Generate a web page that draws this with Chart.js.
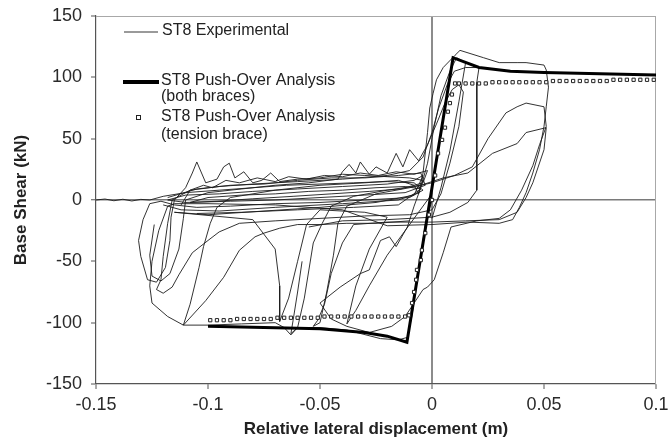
<!DOCTYPE html>
<html><head><meta charset="utf-8">
<script src="https://cdn.jsdelivr.net/npm/chart.js@4/dist/chart.umd.min.js"></script>
<style>html,body{margin:0;padding:0;background:#fff}#wrap{width:668px;height:443px}</style>
</head><body><div id="wrap"><canvas id="c" width="668" height="443"></canvas></div>
<script>
// ---- tick values / labels ----
const xTickValues = [-0.15, -0.1, -0.05, 0, 0.05, 0.1];
const xTickLabels = ['-0.15', '-0.1', '-0.05', '0', '0.05', '0.1'];
const yTickValues = [-150, -100, -50, 0, 50, 100, 150];
const xTitle = 'Relative lateral displacement (m)';
const yTitle = 'Base Shear (kN)';
const legendLabels = [
  ['ST8 Experimental'],
  ['ST8 Push-Over Analysis', '(both braces)'],
  ['ST8 Push-Over Analysis', '(tension brace)']
];

// ---- ST8 experimental hysteresis, [displacement m, shear kN] ----
const expBand = [
  [-0.150,0],[-0.146,0.8],[-0.142,-0.6],[-0.138,0.6],[-0.134,-0.8],[-0.130,0.5],[-0.126,0],
  [-0.120,3],[-0.110,6],[-0.095,8],[-0.080,10],[-0.065,12],[-0.050,13],[-0.035,14],[-0.020,15],[-0.008,14],[-0.004,8],[-0.010,2],[-0.030,0],[-0.050,-2],[-0.070,-3],[-0.090,-5],[-0.105,-6],[-0.115,-4],[-0.121,-1],
  [-0.126,-3],[-0.129,-16],[-0.131,-33],[-0.130,-46],[-0.127,-65],[-0.123,-67],[-0.119,-55],[-0.117,-33],[-0.1165,-14],[-0.115,0],[-0.110,10],[-0.107,22],[-0.105,31],[-0.101,14],[-0.096,17],[-0.093,27],[-0.0905,30],[-0.088,18],[-0.084,23],[-0.080,14],[-0.076,16],[-0.072,22],[-0.068,15],[-0.060,17],[-0.050,18],[-0.040,21],[-0.030,20],[-0.020,19],[-0.010,18],[-0.004,16],[-0.006,6],[-0.015,0],[-0.040,-3],[-0.070,-6],[-0.095,-9],[-0.112,-8],[-0.120,-4]
];
const expBand2 = [
  [-0.118,2],[-0.105,9],[-0.090,12],[-0.075,13],[-0.060,16],[-0.045,18],[-0.030,18],[-0.015,20],[-0.005,22],[-0.003,12],[-0.012,6],[-0.030,4],[-0.050,2],[-0.070,0],[-0.090,-1],[-0.110,-2],[-0.118,0],
  [-0.110,4],[-0.095,5],[-0.080,7],[-0.060,9],[-0.040,11],[-0.020,13],[-0.008,16],[-0.004,20],[-0.008,4],[-0.025,-2],[-0.050,-6],[-0.075,-9],[-0.100,-12],[-0.115,-10]
];
const expBand3 = [
  [-0.112,-4],[-0.108,8],[-0.102,12],[-0.098,10],[-0.092,16],[-0.086,14],[-0.078,18],[-0.070,15],[-0.064,19],[-0.056,17],[-0.048,20],[-0.040,19],[-0.032,22],[-0.024,20],[-0.016,23],[-0.008,21],[-0.002,24],[-0.004,14],[-0.014,9],[-0.028,7],[-0.045,5],[-0.062,3],[-0.080,1],[-0.096,-1],[-0.108,-2],
  [-0.100,2],[-0.085,4],[-0.070,5],[-0.055,7],[-0.040,8],[-0.025,10],[-0.012,11],[-0.005,9],[-0.015,-4],[-0.035,-6],[-0.060,-8],[-0.085,-10],[-0.105,-11]
];
const expMid = [
  [-0.124,-20],[-0.126,-45],[-0.125,-62],[-0.121,-66],[-0.117,-60],[-0.113,-40],[-0.111,-15],[-0.110,0],[-0.100,6],[-0.085,9],[-0.070,12],[-0.055,14],[-0.042,17],[-0.040,23],[-0.037,29],[-0.034,22],[-0.032,31],[-0.028,21],[-0.025,27],[-0.020,22],[-0.016,38],[-0.013,27],[-0.010,41],[-0.006,32],[-0.002,45],[0.002,62],[0.006,80],[0.009,90],[0.012,94],[0.014,88],[0.012,60],[0.008,30],[0.004,5],[0.000,-8],[-0.010,-12],[-0.030,-13],[-0.050,-15],[-0.070,-17],[-0.086,-19],
  [-0.095,-26],[-0.100,-33],[-0.107,-43],[-0.113,-61],[-0.116,-71],[-0.120,-76],[-0.123,-73],[-0.121,-65],[-0.120,-46],[-0.118,-19],[-0.116,0],[-0.108,8],[-0.095,11],[-0.080,13],[-0.060,15],[-0.040,17],[-0.020,20],[-0.010,24],[-0.004,35],[0.000,55],[0.003,75],[0.007,95],[0.010,105],[0.015,108],[0.021,108],[0.020,96],[0.020,60],[0.020,30],[0.020,8],[0.016,-2],[0.008,-10],[0.000,-14],[-0.020,-16],[-0.040,-17],[-0.055,-22]
];
const expSteep = [
  [-0.115,-10],[-0.080,-16],[-0.070,-40],[-0.068,-70],[-0.068,-99],[-0.064,-80],[-0.060,-50],[-0.056,-20],[-0.050,-8],[-0.030,-10],[-0.020,-14],[-0.028,-40],[-0.034,-70],[-0.038,-101],[-0.034,-90],[-0.028,-70],[-0.020,-45],[-0.012,-25],[-0.006,-10],[0.000,5]
];
const expLarge = [
  [-0.058,-50],[-0.060,-75],[-0.062,-98],[-0.063,-109],[-0.060,-104],[-0.057,-80],[-0.053,-35],[-0.049,-19],[-0.045,-5],[-0.035,3],[-0.020,8],[-0.005,12],[0.005,18],[0.016,22],[0.027,38],[0.038,46],[0.042,55],[0.051,59],[0.050,41],[0.045,14],[0.042,2],[0.038,-10],[0.030,-16],[0.015,-17],[0.000,-18],[-0.020,-18],[-0.035,-20],[-0.040,-35],[-0.045,-60],[-0.048,-85],[-0.051,-98],[-0.053,-103],[-0.050,-100],[-0.047,-75],[-0.044,-45],[-0.042,-19],[-0.038,-5],[-0.025,5],[-0.010,10],[0.000,14],[0.010,20],[0.018,27],[0.025,50],[0.033,71],[0.038,76],[0.042,79],[0.050,76],[0.051,60],[0.048,45],[0.045,28],[0.040,8],[0.035,-8],[0.030,-15],[0.020,-17],[0.0085,-22],[0.005,-43],[0.001,-65],[-0.002,-71],[-0.004,-73],[-0.008,-84],[-0.012,-95],[-0.018,-103],[-0.028,-108],[-0.038,-103],[-0.045,-97],[-0.050,-84],[-0.041,-71],[-0.032,-60],[-0.028,-57],[-0.023,-33],[-0.019,-30],[-0.016,-38],[-0.011,-22],[-0.008,-5],[-0.005,10],[-0.002,30],[0.001,60],[0.004,85],[0.008,105],[0.011,116],[0.015,112],[0.012,80],[0.008,40],[0.004,10],[0.000,-15]
];
const expOuter = [
  [-0.010,-17],[-0.025,-19],[-0.038,-19],[-0.050,-20],[-0.060,-20],[-0.068,-23],[-0.075,-27],[-0.079,-30],[-0.086,-41],[-0.093,-63],[-0.101,-82],[-0.111,-102],[-0.108,-85],[-0.104,-55],[-0.102,-38],[-0.099,-19],[-0.096,-6],[-0.090,2],[-0.070,8],[-0.050,12],[-0.030,14],[-0.015,16],[-0.008,12],[-0.006,5],[-0.004,22],[-0.002,55],[-0.001,75],[0.0005,87],[0.002,98],[0.005,108],[0.0103,118],[0.0125,122],[0.023,116],[0.030,112],[0.038,112],[0.042,112],[0.050,110],[0.051,106],[0.052,92],[0.051,76],[0.050,60],[0.048,41],[0.045,22],[0.042,6],[0.039,-6],[0.036,-16],[0.030,-19],[0.016,-18],[0.000,-20],[-0.020,-21],[-0.040,-8],[-0.070,-4],[-0.100,-3],[-0.115,-3],
  [-0.118,-5],[-0.122,-25],[-0.125,-50],[-0.126,-70],[-0.125,-84],[-0.118,-95],[-0.111,-102],[-0.100,-102],[-0.085,-101],[-0.070,-100],[-0.066,-104],[-0.063,-110],[-0.060,-104],[-0.050,-104],[-0.038,-106],[-0.023,-113],[-0.015,-114],[-0.011,-112],[-0.009,-95],[-0.007,-70],[-0.005,-45],[-0.003,-20],[0.000,0]
];

// ---- push-over analysis, both braces ----
const pushBothX = [-0.1, -0.075, -0.05, -0.03, -0.02, -0.0112, 0.0094, 0.021, 0.035, 0.05, 0.075, 0.1];
const pushBothY = [-103, -104, -105, -108, -111, -116, 116, 108, 105, 104, 103, 102];

// ---- push-over analysis, tension brace (markers) ----
const pushTensionX = [
  -0.099,-0.096,-0.093,-0.090,-0.087,-0.084,-0.081,-0.078,-0.075,-0.072,-0.069,-0.066,-0.063,-0.060,-0.057,-0.054,-0.051,-0.048,-0.045,-0.042,-0.039,-0.036,-0.033,-0.030,-0.027,-0.024,-0.021,-0.018,-0.015,-0.012,
  -0.0103,-0.0089,-0.008,-0.0071,-0.0067,-0.005,-0.0045,-0.003,-0.0014,0,
  0.0014,0.0027,0.0045,0.0058,0.0071,0.008,0.0089,0.0103,
  0.012,0.015,0.018,0.021,0.024,0.027,0.030,0.033,0.036,0.039,0.042,0.045,0.048,0.051,0.054,0.057,0.060,0.063,0.066,0.069,0.072,0.075,0.078,0.081,0.084,0.087,0.090,0.093,0.096,0.099
];
const pushTensionY = [
  -98,-98,-98,-98,-97,-97,-97,-97,-97,-97,-96,-96,-96,-96,-96,-96,-96,-95,-95,-95,-95,-95,-95,-95,-95,-95,-95,-95,-95,-95,
  -94,-84,-75,-65,-57,-49,-41,-27,-12,0,
  20,38,49,59,72,79,86,95,
  95,95,95,95,95,96,96,96,96,96,96,96,96,96,97,97,97,97,97,97,97,97,97,98,98,98,98,98,98,98
];

const FONT = '"Liberation Sans", Arial, sans-serif';
const toPts = arr => arr.map(([x, y]) => ({x, y}));
const zip = (xs, ys) => xs.map((x, i) => ({x, y: ys[i]}));

const expStyle = {showLine: true, borderColor: '#1c1c1c', borderWidth: 0.9, pointRadius: 0, tension: 0, order: 3};

const framePlugin = {
  id: 'frame',
  beforeDatasetsDraw(chart) {
    const {ctx, chartArea: a} = chart;
    ctx.save();
    ctx.strokeStyle = '#a8a8a8';
    ctx.lineWidth = 1;
    ctx.beginPath();
    ctx.moveTo(a.left, a.top + 0.5); ctx.lineTo(a.right, a.top + 0.5);
    ctx.moveTo(a.right - 0.5, a.top); ctx.lineTo(a.right - 0.5, a.bottom);
    ctx.stroke();
    ctx.restore();
  }
};

const legendPlugin = {
  id: 'customLegend',
  afterDraw(chart) {
    const ctx = chart.ctx;
    ctx.save();
    ctx.font = '16px ' + FONT;
    ctx.fillStyle = '#222';
    ctx.textBaseline = 'middle';
    ctx.textAlign = 'left';
    ctx.strokeStyle = '#9a9a9a'; ctx.lineWidth = 2;
    ctx.beginPath(); ctx.moveTo(124, 32); ctx.lineTo(158, 32); ctx.stroke();
    ctx.fillText(legendLabels[0][0], 162, 31);
    ctx.strokeStyle = '#000'; ctx.lineWidth = 4;
    ctx.beginPath(); ctx.moveTo(123, 82); ctx.lineTo(159, 82); ctx.stroke();
    ctx.fillText(legendLabels[1][0], 161, 81);
    ctx.fillText(legendLabels[1][1], 161, 97);
    ctx.strokeStyle = '#222'; ctx.lineWidth = 1;
    ctx.fillStyle = '#fff';
    ctx.fillRect(136, 115, 4, 4);
    ctx.strokeRect(136.5, 115.5, 4, 4);
    ctx.fillStyle = '#222';
    ctx.fillText(legendLabels[2][0], 161, 117);
    ctx.fillText(legendLabels[2][1], 161, 135);
    ctx.restore();
  }
};

const expSets = [expBand, expBand2, expBand3, expMid, expSteep, expLarge, expOuter].map((seg, i) =>
  Object.assign({label: legendLabels[0][0] + ' ' + i, data: toPts(seg)}, expStyle));

new Chart(document.getElementById('c'), {
  type: 'scatter',
  data: {
    datasets: expSets.concat([
      {
        label: legendLabels[1].join(' '), data: zip(pushBothX, pushBothY),
        showLine: true, borderColor: '#000', borderWidth: 3, pointRadius: 0, tension: 0, order: 2
      },
      {
        label: legendLabels[2].join(' '), data: zip(pushTensionX, pushTensionY),
        showLine: false, pointStyle: 'rect', pointRadius: 2.3, borderWidth: 1,
        pointBorderColor: '#222', pointBackgroundColor: '#fff', order: 1
      }
    ])
  },
  options: {
    responsive: false,
    animation: false,
    events: [],
    layout: {padding: {top: 16, right: 12, left: 0, bottom: 0}},
    plugins: {legend: {display: false}, tooltip: {enabled: false}},
    scales: {
      x: {
        type: 'linear', min: -0.15, max: 0.1,
        afterBuildTicks: s => { s.ticks = xTickValues.map(v => ({value: v})); },
        afterFit: s => { s.height = 59; s.paddingLeft = 0; s.paddingRight = 0; },
        ticks: {
          callback: (v, i) => xTickLabels[i],
          font: {family: FONT, size: 18}, color: '#2a2a2a', padding: 5, maxRotation: 0
        },
        grid: {
          color: c => (c.tick && c.tick.value === 0) ? '#8c8c8c' : 'rgba(0,0,0,0)',
          lineWidth: c => (c.tick && c.tick.value === 0) ? 2 : 0,
          drawTicks: true, tickLength: 5, tickColor: '#555', tickWidth: 1
        },
        border: {display: true, color: '#555', width: 1.2},
        title: {display: true, text: xTitle, font: {family: FONT, size: 17, weight: 'bold'}, color: '#222', padding: {top: 0, bottom: 3}}
      },
      y: {
        type: 'linear', min: -150, max: 150,
        afterBuildTicks: s => { s.ticks = yTickValues.map(v => ({value: v})); },
        afterFit: s => { s.width = 96; s.paddingTop = 0; s.paddingBottom = 0; },
        ticks: {
          font: {family: FONT, size: 18}, color: '#2a2a2a', padding: 9
        },
        grid: {
          color: c => (c.tick && c.tick.value === 0) ? '#7a7a7a' : 'rgba(0,0,0,0)',
          lineWidth: c => (c.tick && c.tick.value === 0) ? 1.5 : 0,
          drawTicks: true, tickLength: 5, tickColor: '#555', tickWidth: 1
        },
        border: {display: true, color: '#555', width: 1.2},
        title: {display: true, text: yTitle, font: {family: FONT, size: 17, weight: 'bold'}, color: '#222', padding: {top: 11, bottom: 0}}
      }
    }
  },
  plugins: [framePlugin, legendPlugin]
});
</script>
</body></html>
